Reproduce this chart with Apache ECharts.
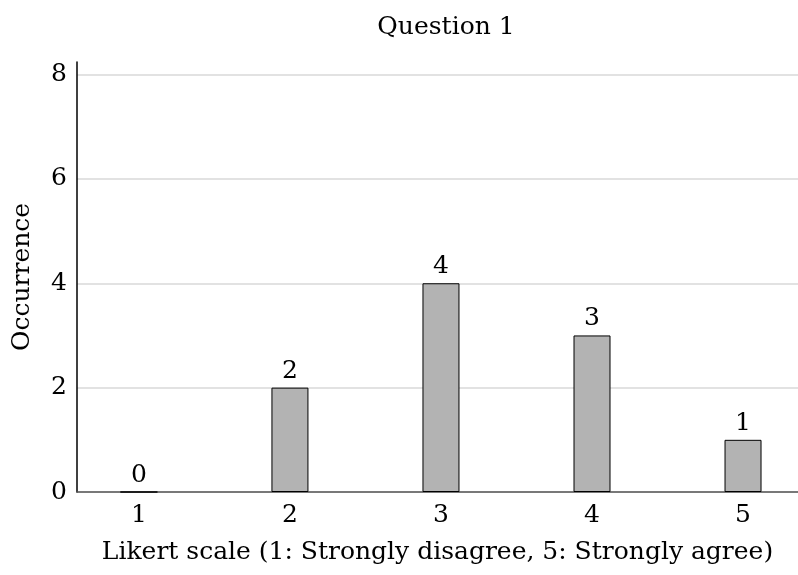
<!DOCTYPE html>
<html><head><meta charset="utf-8">
<script src="https://cdn.jsdelivr.net/npm/echarts@6/dist/echarts.min.js"></script>
<style>html,body{margin:0;padding:0;background:#fff}#c{width:798px;height:575px}</style>
</head><body><div id="c"></div>
<script>
const categories = [1, 2, 3, 4, 5];
const occurrences = [0, 2, 4, 3, 1];
const yTicks = [0, 2, 4, 6, 8];
const FONT = "DejaVu Serif";
const FS = 25;
const chart = echarts.init(document.getElementById('c'), null, {renderer: 'canvas'});
chart.setOption({
  animation: false,
  title: {text: 'Question 1', left: 441, top: 10, textAlign: 'center',
    textStyle: {fontFamily: FONT, fontSize: FS, fontWeight: 'normal', color: '#000'}},
  grid: {left: 77, right: 0, top: 62, bottom: 83, containLabel: false, outerBoundsMode: 'none'},
  xAxis: {type: 'value', min: 0.59, max: 5.364,
    name: 'Likert scale (1: Strongly disagree, 5: Strongly agree)', nameLocation: 'middle', nameGap: 48,
    nameTextStyle: {fontFamily: FONT, fontSize: FS, color: '#000'},
    axisLine: {show: true, lineStyle: {color: '#555', width: 1.5}},
    axisTick: {show: false},
    splitLine: {show: false},
    axisLabel: {customValues: categories, fontFamily: FONT, fontSize: FS, color: '#000', margin: 11}},
  yAxis: {type: 'value', min: 0, max: 8.24,
    name: 'Occurrence', nameLocation: 'middle', nameGap: 42, nameRotate: 90,
    nameTextStyle: {fontFamily: FONT, fontSize: FS, color: '#000'},
    axisLine: {show: true, lineStyle: {color: '#000', width: 1.5}},
    axisTick: {show: false, customValues: yTicks},
    splitLine: {show: true, lineStyle: {color: '#d9d9d9', width: 1.5}},
    axisLabel: {customValues: yTicks, fontFamily: FONT, fontSize: FS, color: '#000', margin: 10}},
  series: [{type: 'bar', barWidth: 37,
    data: categories.map((c, i) => [c, occurrences[i]]),
    itemStyle: {color: '#b3b3b3', borderColor: '#000', borderWidth: 1},
    label: {show: true, position: 'top', distance: 4, fontFamily: FONT, fontSize: FS, color: '#000',
      formatter: p => String(p.value[1])}}]
});
</script></body></html>
